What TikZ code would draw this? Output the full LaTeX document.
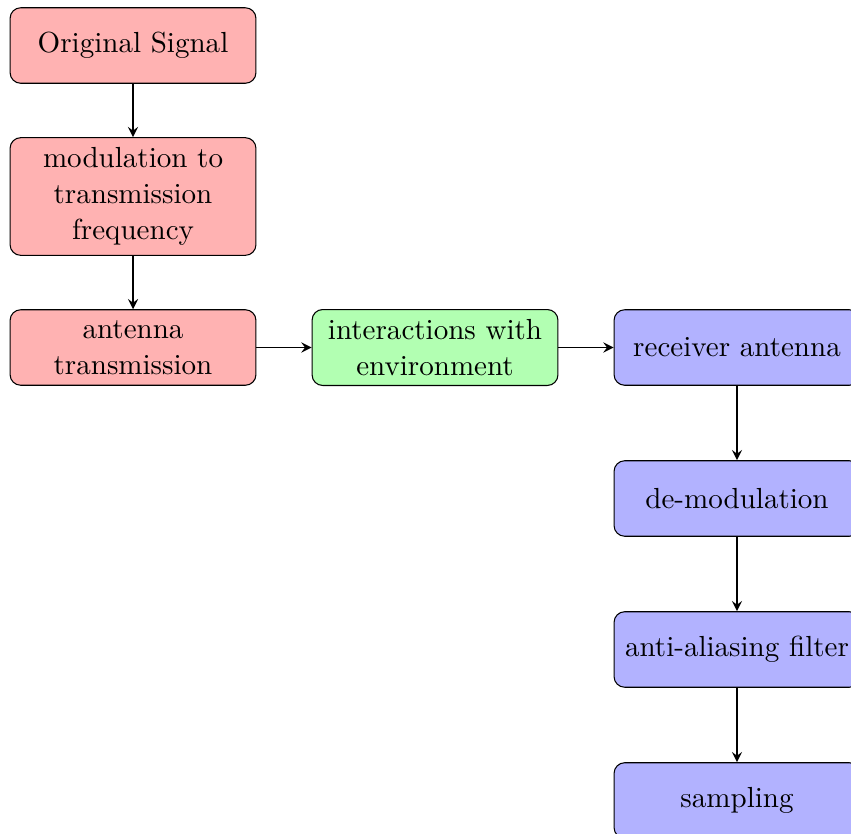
\documentclass[11pt,tikz,border=0pt]{standalone}
\usetikzlibrary{arrows}
\begin{document}
\begin{tikzpicture}[
    box/.style={rectangle, draw, rounded corners, text width=3cm, align=center, minimum height=1cm},
    sender/.style={box, fill=red!30},
    channel/.style={box, fill=green!30},
    receiver/.style={box, fill=blue!30},
    link/.style={line width=0.7pt, -stealth}]
        \useasboundingbox (-1.762,0.603) rectangle (9.51,-10.443);

        \node[sender] (orig) at (0,0) {Original Signal};
        \node[sender] (mod) at (0,-2) {modulation to transmission frequency};
        \node[sender] (tx) at (0,-4) {antenna transmission};
        \node[channel] (env) at (4,-4) {interactions with environment};
        \node[receiver] (rx) at (8,-4) {receiver antenna};
        \node[receiver] (demod) at (8,-6) {de-modulation};
        \node[receiver] (filt) at (8,-8) {anti-aliasing filter};
        \node[receiver] (samp) at (8,-10) {sampling};

        \draw[link] (orig) -- (mod);
        \draw[link] (mod) -- (tx);
        \draw[link] (tx) -- (env);
        \draw[link] (env) -- (rx);
        \draw[link] (rx) -- (demod);
        \draw[link] (demod) -- (filt);
        \draw[link] (filt) -- (samp);
    \end{tikzpicture}
\end{document}
